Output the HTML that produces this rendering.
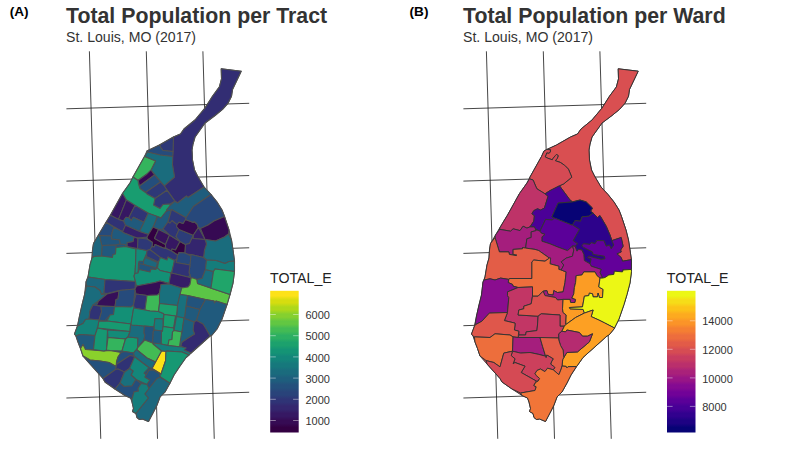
<!DOCTYPE html>
<html><head><meta charset="utf-8"><title>Total Population</title>
<style>
html,body{margin:0;padding:0;background:#fff;}
body{width:800px;height:450px;overflow:hidden;font-family:"Liberation Sans",sans-serif;}
svg{display:block}
text{font-family:"Liberation Sans",sans-serif;}
.tag{font-size:13.6px;font-weight:bold;fill:#000;}
.ttl{font-size:21.3px;font-weight:bold;fill:#333;}
.sub{font-size:14.1px;fill:#333;}
.ltt{font-size:14.2px;fill:#222;}
.lt{font-size:11px;fill:#333;}
</style></head><body>
<svg width="800" height="450" viewBox="0 0 800 450">
<rect width="800" height="450" fill="#fff"/>
<text x="9.7" y="15.9" class="tag">(A)</text>
<text x="66" y="23" class="ttl">Total Population per Tract</text>
<text x="66" y="42" class="sub">St. Louis, MO (2017)</text>
<text x="409.6" y="15.9" class="tag">(B)</text>
<text x="463" y="23" class="ttl">Total Population per Ward</text>
<text x="463" y="42" class="sub">St. Louis, MO (2017)</text>
<g stroke="#161616" stroke-width="0.8" fill="none"><line x1="89.40" y1="51.3" x2="100.75" y2="438.8"/><line x1="146.30" y1="51.3" x2="157.50" y2="438.8"/><line x1="202.90" y1="51.3" x2="214.25" y2="438.8"/><line x1="66.40" y1="108.80" x2="249.20" y2="103.30"/><line x1="66.40" y1="181.10" x2="249.20" y2="175.54"/><line x1="66.40" y1="253.40" x2="249.20" y2="247.78"/><line x1="66.40" y1="325.70" x2="249.20" y2="320.02"/><line x1="66.40" y1="398.00" x2="249.20" y2="392.26"/></g><g stroke="#161616" stroke-width="0.8" fill="none"><line x1="486.40" y1="51.3" x2="497.75" y2="438.8"/><line x1="543.30" y1="51.3" x2="554.50" y2="438.8"/><line x1="599.90" y1="51.3" x2="611.25" y2="438.8"/><line x1="463.40" y1="108.80" x2="646.20" y2="103.30"/><line x1="463.40" y1="181.10" x2="646.20" y2="175.54"/><line x1="463.40" y1="253.40" x2="646.20" y2="247.78"/><line x1="463.40" y1="325.70" x2="646.20" y2="320.02"/><line x1="463.40" y1="398.00" x2="646.20" y2="392.26"/></g><g stroke="#505050" stroke-width="1.05" stroke-linejoin="round"><polygon fill="#22547c" points="221.2,68.8 221.5,78.8 219.4,86.9 212.5,96.2 205.0,108.1 195.0,120.0 184.0,129.0 180.5,134.0 173.5,137.0 159.5,145.0 147.0,151.0 144.5,156.5 133.0,177.0 130.0,183.0 122.5,193.5 110.4,215.3 106.1,222.3 98.5,235.0 93.5,243.5 92.5,250.0 92.0,258.0 90.0,265.0 88.5,274.0 88.0,277.0 86.0,282.0 84.5,295.0 82.0,305.0 79.5,316.0 77.5,326.0 74.5,334.0 76.0,336.0 78.0,342.0 80.5,348.5 83.0,356.0 90.0,364.0 99.0,374.0 103.0,378.5 105.0,382.0 115.0,389.0 125.0,395.5 130.5,398.0 132.0,402.0 133.5,408.5 132.5,411.5 136.0,413.5 137.0,417.5 139.5,419.5 142.5,419.0 148.5,421.5 154.0,411.0 157.0,405.0 160.0,397.0 165.0,392.0 170.0,383.0 174.0,375.0 180.0,366.0 186.0,357.5 191.0,353.0 200.0,345.0 210.0,336.0 212.0,335.0 217.0,329.0 222.0,319.0 227.0,304.5 230.0,294.5 233.0,283.0 234.5,271.5 234.5,261.0 233.0,250.0 231.5,240.0 229.0,230.0 224.5,216.5 222.0,210.0 217.0,202.0 211.0,194.5 204.0,187.0 197.5,176.0 194.5,170.0 192.5,160.0 192.0,150.0 193.0,144.0 195.0,137.0 200.0,130.0 205.0,123.0 215.0,115.5 222.5,109.4 228.1,103.1 231.5,96.2 232.5,89.4 241.2,71.2"/><polygon fill="#322d73" points="221.2,68.8 221.5,78.8 219.4,86.9 212.5,96.2 205.0,108.1 195.0,120.0 184.0,129.0 180.5,134.0 173.5,137.0 172.8,155.0 172.0,156.5 172.5,165.0 174.5,177.0 164.2,185.8 175.0,201.0 177.5,203.0 186.5,196.0 188.0,197.5 204.0,187.0 197.5,176.0 194.5,170.0 192.5,160.0 192.0,150.0 193.0,144.0 195.0,137.0 200.0,130.0 205.0,123.0 215.0,115.5 222.5,109.4 228.1,103.1 231.5,96.2 232.5,89.4 241.2,71.2"/><polygon fill="#2e3877" points="159.5,145.0 173.5,137.0 173.0,151.5 163.0,150.5 161.0,148.0"/><polygon fill="#264b7c" points="147.0,151.0 159.5,145.0 161.0,148.0 163.0,150.5 173.0,151.5 172.8,156.5 160.0,155.0 147.5,152.0"/><polygon fill="#1a6c7d" points="147.5,152.0 160.0,155.0 172.8,156.5 172.5,165.0 174.5,177.0 164.2,185.8 151.0,170.0 155.5,161.0 144.5,156.5"/><polygon fill="#34b45d" points="144.5,156.5 155.5,161.0 151.0,170.0 147.0,174.0 138.0,180.5 133.0,177.0"/><polygon fill="#360a53" points="151.0,170.0 154.5,175.0 139.5,186.0 138.5,182.0 138.0,180.5 147.0,174.0"/><polygon fill="#244e7c" points="154.5,175.0 160.5,182.0 145.5,192.5 140.0,188.5 139.5,186.0"/><polygon fill="#2e3877" points="160.5,182.0 164.2,185.8 167.0,190.3 155.0,198.5 147.0,194.0 145.5,192.5"/><polygon fill="#2e3877" points="155.0,198.5 167.0,190.3 174.8,201.3 170.0,204.0 163.0,204.5 160.0,208.5 153.5,205.0"/><polygon fill="#189d70" points="138.0,180.5 138.5,184.0 140.0,188.5 145.5,192.5 147.0,194.0 155.0,198.5 153.5,205.0 160.0,208.5 163.0,204.5 170.0,204.0 170.5,205.0 167.0,209.5 166.5,211.0 161.0,218.0 148.2,213.2 135.0,205.4 128.4,201.2 126.3,200.0 122.5,193.5 130.0,183.0 133.0,177.0"/><polygon fill="#361762" points="122.5,193.5 126.3,200.0 118.5,219.4 110.4,215.3"/><polygon fill="#361762" points="126.3,200.0 128.4,201.2 135.0,205.4 128.8,217.7 125.9,217.3 123.4,221.0 118.5,219.4"/><polygon fill="#2f3476" points="135.0,205.4 148.2,213.2 144.0,222.3 133.3,217.3 131.3,220.6 128.8,217.7"/><polygon fill="#205a7d" points="125.9,217.3 128.8,217.7 131.3,220.6 133.3,217.3 144.0,222.3 139.5,231.4 125.5,225.2 123.4,221.0"/><polygon fill="#1a6c7d" points="148.2,213.2 157.5,216.5 153.5,226.5 148.5,234.5 139.5,231.4 144.0,222.3"/><polygon fill="#205a7d" points="157.5,216.5 161.0,218.0 166.5,211.0 171.5,209.5 168.0,222.0 163.0,229.0 158.5,229.5 153.0,227.0 153.5,226.5"/><polygon fill="#303275" points="110.4,215.3 118.5,219.4 123.4,221.0 125.5,225.2 122.6,231.8 106.1,222.3"/><polygon fill="#351f6a" points="125.5,225.2 139.5,231.4 148.5,234.5 147.0,237.0 138.5,238.0 134.0,237.0 123.0,232.5 122.6,231.8"/><polygon fill="#361762" points="134.0,237.0 138.0,238.5 137.5,248.5 127.0,246.5 127.0,242.5 133.0,241.5"/><polygon fill="#330042" points="153.0,227.0 158.5,229.5 154.5,238.0 165.5,244.5 165.5,246.5 164.5,248.5 155.0,244.5 154.0,247.0 152.0,246.5 152.5,242.5 147.5,239.0 147.0,237.0 148.5,234.5"/><polygon fill="#37125c" points="158.5,229.5 169.5,235.0 165.5,244.5 154.5,238.5"/><polygon fill="#361762" points="169.5,235.0 180.0,241.5 175.5,250.0 172.0,249.0 171.5,251.0 166.0,248.5 165.5,246.5 165.5,244.5"/><polygon fill="#330042" points="180.0,241.5 185.5,244.5 185.0,253.0 179.0,252.5 177.5,255.0 171.5,251.0 172.0,249.0 175.5,250.0"/><polygon fill="#2f3476" points="163.0,229.0 168.0,222.0 170.0,223.0 172.0,220.5 177.0,224.5 176.5,226.5 179.0,229.5 176.0,236.5 180.0,241.5 169.5,235.0"/><polygon fill="#2c3d79" points="179.0,229.5 193.3,235.3 189.5,243.5 185.5,244.5 180.0,241.5 176.0,236.5"/><polygon fill="#360950" points="177.0,224.5 179.0,222.0 183.0,223.5 185.5,219.5 193.5,222.5 194.0,221.5 197.0,224.0 198.3,227.5 193.3,235.3 179.0,229.5 176.5,226.5"/><polygon fill="#1f5d7d" points="170.5,205.0 174.8,201.3 177.5,203.0 186.5,196.0 188.0,197.5 204.0,187.0 211.0,194.5 193.5,206.5 186.0,217.8 171.5,209.5 166.5,211.0 167.0,209.5"/><polygon fill="#2e3877" points="171.5,209.5 186.0,217.8 185.5,219.5 183.0,223.5 179.0,222.0 177.0,224.5 172.0,220.5 170.0,223.0 168.0,222.0"/><polygon fill="#27487b" points="211.0,194.5 217.0,202.0 222.0,210.0 224.5,216.5 214.0,221.0 208.0,225.0 200.5,228.5 198.3,227.5 197.0,224.0 194.0,221.5 193.5,222.5 185.5,219.5 186.0,217.8 193.5,206.5"/><polygon fill="#360a53" points="224.5,216.5 229.0,230.0 228.5,234.0 224.5,237.0 215.5,241.0 205.0,239.5 200.5,228.5 208.0,225.0 214.0,221.0"/><polygon fill="#361c67" points="198.5,227.5 205.0,239.5 193.0,238.5 193.3,235.3"/><polygon fill="#264b7c" points="106.1,222.3 113.9,227.2 112.0,233.0 111.5,236.0 99.5,235.5 98.5,235.0"/><polygon fill="#205a7d" points="113.9,227.2 122.6,231.8 123.0,232.5 134.0,237.0 133.0,241.5 127.0,242.5 127.0,246.5 125.5,246.5 125.5,244.5 120.0,244.0 119.5,240.0 111.5,239.0 112.0,233.0"/><polygon fill="#22557c" points="99.5,235.5 111.5,236.0 111.5,239.0 119.5,240.0 120.0,244.0 116.0,245.0 102.0,245.5 101.5,244.5"/><polygon fill="#21587d" points="102.0,245.5 116.0,245.0 116.0,247.5 115.5,254.0 113.0,254.5 112.5,257.5 101.5,256.0"/><polygon fill="#1c657d" points="98.5,235.0 99.5,235.5 101.5,244.5 102.0,245.5 101.5,256.0 94.0,256.5 92.0,258.0 92.5,250.0 93.5,243.5"/><polygon fill="#169873" points="94.0,256.5 101.5,256.0 112.5,257.5 113.0,254.5 115.5,254.0 116.0,247.5 125.5,246.5 136.0,249.0 135.5,265.0 135.0,273.5 134.0,276.0 135.5,281.5 105.0,279.5 88.0,277.0 88.5,274.0 90.0,265.0 92.0,258.0"/><polygon fill="#138b78" points="136.0,249.0 137.5,248.5 147.0,250.5 147.5,251.0 143.5,261.0 139.0,261.3 138.5,263.5 138.0,273.0 135.0,273.5 135.5,265.0"/><polygon fill="#2e3877" points="138.0,238.5 138.5,238.0 147.0,239.0 152.5,242.5 152.0,246.5 150.0,249.5 147.0,250.5 137.5,248.5"/><polygon fill="#2e3877" points="150.0,249.5 160.5,257.5 158.5,262.0 146.5,256.5 147.0,250.5"/><polygon fill="#2f3476" points="155.0,244.5 164.5,248.5 166.0,248.5 171.5,251.0 177.5,255.0 177.0,259.0 174.5,260.5 168.0,257.0 167.0,260.0 160.5,257.5 150.0,249.5 152.0,246.5 154.0,247.0"/><polygon fill="#139076" points="160.5,257.5 167.0,260.0 168.0,257.0 174.5,260.5 172.5,269.5 171.5,273.0 160.0,270.5 157.5,268.0 158.5,262.0"/><polygon fill="#1c677d" points="145.5,257.5 157.5,262.5 156.0,268.0 150.5,266.5 143.5,264.5 143.5,261.0"/><polygon fill="#22557c" points="139.0,263.5 143.5,264.5 150.5,266.5 156.0,268.0 155.5,269.5 151.0,269.0 150.0,272.0 139.0,269.5"/><polygon fill="#1c677d" points="88.0,277.0 105.0,279.5 104.0,293.0 101.5,294.5 100.0,290.5 95.0,287.0 86.5,286.0 86.0,282.0"/><polygon fill="#1a6c7d" points="86.5,286.0 95.0,287.0 100.0,290.5 101.5,294.5 107.0,294.0 98.5,301.0 93.0,305.0 90.0,311.0 89.0,319.0 85.5,319.5 83.0,323.5 77.5,326.0 79.5,316.0 82.0,305.0 84.5,295.0"/><polygon fill="#2f3476" points="105.0,279.5 135.5,281.5 135.0,289.0 119.0,290.5 107.0,293.5 104.0,293.0"/><polygon fill="#360f59" points="107.0,294.0 119.0,291.0 118.0,299.0 116.0,299.5 115.0,306.5 96.5,305.5 98.5,301.0"/><polygon fill="#264b7c" points="119.0,290.5 135.0,289.0 133.5,305.0 131.0,307.0 115.0,306.5 116.0,299.5 118.0,299.0"/><polygon fill="#139076" points="135.0,273.5 138.0,273.0 139.0,269.5 150.0,272.0 151.0,269.0 155.5,269.5 157.5,268.0 160.0,270.5 171.0,273.0 169.0,283.5 160.0,281.0 155.0,282.5 136.5,286.0 135.5,281.5 134.0,276.0"/><polygon fill="#360d56" points="136.5,286.0 155.0,282.5 160.0,281.0 169.0,283.5 169.0,284.0 161.0,284.5 159.5,293.0 157.5,295.0 147.0,295.5 136.0,294.0 135.0,289.0"/><polygon fill="#303275" points="136.0,294.0 147.0,295.5 145.0,310.0 134.0,308.0 133.5,305.0"/><polygon fill="#3db957" points="147.0,295.5 157.5,295.0 159.5,293.0 159.5,303.5 158.5,311.5 150.0,311.0 145.0,310.0"/><polygon fill="#303275" points="93.0,305.0 96.5,305.5 101.0,306.5 101.5,312.0 99.0,320.0 89.0,319.0 90.0,311.0"/><polygon fill="#244e7c" points="101.0,306.5 115.0,306.5 114.5,307.5 113.5,314.5 110.0,315.0 104.5,321.0 99.0,320.0 101.5,312.0"/><polygon fill="#139076" points="114.5,307.5 115.0,306.5 131.0,307.0 133.5,305.0 134.0,308.0 133.5,309.0 131.0,324.0 107.0,321.0 110.0,315.0 113.5,314.5"/><polygon fill="#179a71" points="99.0,321.0 104.5,321.3 107.0,321.0 131.0,324.0 130.5,325.5 130.0,331.5 97.5,328.0"/><polygon fill="#14837a" points="85.5,319.5 89.0,319.0 99.0,320.0 97.5,328.0 95.0,335.5 80.0,334.5 76.0,336.0 74.5,334.0 77.5,326.0 83.0,323.5"/><polygon fill="#205a7d" points="80.0,334.5 95.0,335.5 93.5,349.5 85.5,349.5 83.0,344.5 80.5,348.5 78.0,342.0 76.0,336.0"/><polygon fill="#8ad12c" points="83.0,344.5 85.5,349.5 104.0,351.0 110.0,350.5 121.0,352.5 118.0,357.0 116.5,362.0 116.0,366.5 109.0,362.5 100.0,361.0 90.0,360.0 83.0,356.0 80.5,348.5"/><polygon fill="#169873" points="97.5,328.0 107.5,330.0 106.5,350.0 104.0,351.0 93.5,349.5 95.0,335.5"/><polygon fill="#138b78" points="107.5,330.0 130.0,331.5 128.0,337.0 125.5,339.0 108.0,337.5"/><polygon fill="#34b45d" points="108.0,337.5 125.5,339.0 122.0,351.0 110.0,350.5 106.5,350.0"/><polygon fill="#179a71" points="128.0,337.0 138.0,338.0 137.5,348.0 136.0,350.0 133.5,353.0 124.5,351.5 122.0,351.0 125.5,339.0"/><polygon fill="#1a6c7d" points="131.0,324.0 132.0,325.0 144.5,326.0 144.0,333.0 145.0,335.0 144.0,339.5 137.5,348.0 138.0,338.0 128.0,337.0 130.0,331.5 130.5,325.5"/><polygon fill="#139076" points="133.5,309.0 134.0,308.0 145.0,310.0 150.0,311.0 158.5,311.5 163.5,313.5 164.0,314.5 163.0,319.0 155.0,318.5 154.0,327.0 150.0,326.5 144.5,326.0 132.0,325.0 131.0,324.0"/><polygon fill="#244e7c" points="121.0,352.5 124.5,351.5 133.5,353.0 134.5,356.5 130.0,355.5 117.0,364.0 116.5,362.0 118.0,357.0"/><polygon fill="#303275" points="130.0,355.5 134.5,356.5 134.0,359.0 129.5,368.5 124.5,372.0 118.0,369.0 115.5,369.5 116.0,366.5 117.0,364.0"/><polygon fill="#24507c" points="83.0,356.0 90.0,360.0 100.0,361.0 109.0,362.5 116.0,366.5 115.5,369.5 103.0,378.5 99.0,374.0 90.0,364.0"/><polygon fill="#2f3476" points="115.5,369.5 118.0,369.0 124.5,372.0 120.0,383.0 115.0,389.0 105.0,382.0 103.0,378.5"/><polygon fill="#13867a" points="134.3,357.5 134.5,356.5 149.0,367.5 144.0,373.0 146.0,374.5 149.0,370.0 145.0,377.0 150.0,380.0 147.0,384.5 136.0,379.5 131.0,375.0 133.0,371.0 129.5,368.5"/><polygon fill="#19707d" points="129.5,368.5 133.0,371.0 131.0,375.0 136.0,379.5 132.0,386.0 124.0,386.5 120.0,383.0 124.5,372.0"/><polygon fill="#244e7c" points="120.0,383.0 124.0,386.5 132.0,386.0 136.0,379.5 141.0,383.5 138.0,388.5 138.5,391.0 134.0,392.0 132.0,399.0 130.5,398.0 125.0,395.5 115.0,389.0"/><polygon fill="#22537c" points="149.0,370.0 154.0,370.0 159.5,373.5 160.5,377.0 157.0,378.5 149.0,388.5 147.0,384.5 150.0,380.0 145.0,377.0"/><polygon fill="#157d7b" points="141.0,383.5 147.0,384.5 149.0,388.5 145.0,394.0 148.5,398.0 136.0,413.5 132.5,411.5 133.5,408.5 132.0,402.0 132.0,399.0 134.0,392.0 138.5,391.0 138.0,388.5"/><polygon fill="#1c677d" points="157.0,378.5 160.5,377.0 169.0,382.5 170.0,383.0 165.0,392.0 160.0,397.0 157.0,405.0 154.0,411.0 148.5,421.5 142.5,419.0 139.5,419.5 137.0,417.5 136.0,413.5 148.5,398.0 145.0,394.0 149.0,388.5"/><polygon fill="#1a6c7d" points="228.5,234.0 231.5,240.0 233.0,250.0 234.5,261.0 229.0,261.5 225.0,263.5 216.0,260.5 206.5,260.0 203.5,257.5 204.5,250.0 206.5,244.0 205.0,239.5 215.5,241.0 224.5,237.0"/><polygon fill="#34256e" points="193.0,238.5 205.0,239.5 206.5,244.0 204.5,250.0 203.5,257.5 191.0,254.5 187.0,254.0 185.0,253.0 185.5,244.5 189.5,243.5 193.3,235.3"/><polygon fill="#27487b" points="178.5,254.5 179.0,252.5 185.0,253.0 187.0,254.0 191.0,256.0 190.0,265.0 176.0,262.5 177.0,259.0 177.5,255.0"/><polygon fill="#27487b" points="191.0,254.5 203.5,257.5 206.5,260.0 205.5,269.5 202.0,278.5 197.0,279.5 193.0,278.0 191.0,278.0 190.0,275.0 189.0,272.5 190.0,265.0 191.0,256.0"/><polygon fill="#303275" points="176.0,262.5 190.0,265.0 189.0,272.5 190.0,275.0 188.0,277.0 171.5,273.0 172.5,269.5 174.5,260.5 177.0,259.0"/><polygon fill="#361c67" points="171.5,273.0 188.0,277.0 191.0,278.0 191.0,279.0 190.0,284.5 188.0,287.0 182.0,288.0 181.5,288.0 169.0,284.0 169.0,283.5 171.0,273.0"/><polygon fill="#5bc546" points="193.0,278.0 197.0,279.5 197.5,283.5 212.0,288.5 230.0,294.5 227.0,304.5 216.0,301.0 214.5,303.0 214.0,301.0 205.5,299.5 187.5,295.5 180.0,294.5 181.5,288.0 188.0,287.0 190.0,284.5 191.0,279.0 191.0,278.0"/><polygon fill="#1a6c7d" points="205.5,269.5 213.5,271.5 211.0,288.0 197.5,283.5 197.0,279.5 202.0,278.5"/><polygon fill="#157d7b" points="206.5,260.0 216.0,260.5 225.0,263.5 229.0,261.5 234.5,261.0 234.5,271.5 215.0,269.0 213.5,271.5 205.5,269.5"/><polygon fill="#20a56a" points="215.0,269.0 234.5,271.5 233.0,283.0 230.0,294.5 212.0,288.5 211.0,288.0 213.5,271.5"/><polygon fill="#19707d" points="161.0,284.5 169.0,284.0 181.5,288.0 180.0,294.5 177.5,305.5 159.5,303.5 159.5,293.0"/><polygon fill="#22537c" points="187.5,295.5 205.5,299.5 200.0,309.5 186.0,306.0"/><polygon fill="#205a7d" points="186.0,306.0 200.0,309.5 196.5,320.5 194.0,322.0 184.5,318.5 184.0,318.0 184.5,317.5"/><polygon fill="#205a7d" points="205.5,299.5 214.0,301.0 214.5,303.0 216.0,301.0 227.0,304.5 222.0,319.0 217.0,329.0 212.0,335.0 210.0,336.0 209.5,335.0 205.5,328.0 203.0,324.0 196.5,320.5 200.0,309.5"/><polygon fill="#332a71" points="194.0,322.0 196.5,320.5 203.0,324.0 205.5,328.0 209.5,335.0 210.0,336.0 200.0,345.0 191.0,353.0 184.0,350.0 186.0,348.0 180.5,346.5 182.0,342.0 188.0,338.0 194.5,334.0 193.0,330.0"/><polygon fill="#19707d" points="180.0,294.5 187.5,295.5 186.0,306.0 184.5,317.5 184.0,318.0 176.5,316.5 177.5,305.5"/><polygon fill="#1ba06e" points="159.5,303.5 177.5,305.5 176.5,316.5 175.5,316.0 164.0,314.5 163.5,313.5 158.5,311.5"/><polygon fill="#199e6f" points="164.0,314.5 175.5,316.0 173.5,328.0 163.0,326.5"/><polygon fill="#13867a" points="176.5,316.5 184.0,318.0 182.0,332.0 174.0,330.5"/><polygon fill="#1e607d" points="184.0,318.0 184.5,318.5 194.0,322.0 193.0,330.0 194.5,334.0 188.0,338.0 182.0,342.0 180.5,346.5 179.0,346.5 180.0,333.0 182.0,332.0"/><polygon fill="#157d7b" points="155.0,318.5 163.0,319.0 163.0,326.5 162.5,331.0 154.0,330.0 154.0,327.0"/><polygon fill="#179a71" points="163.0,326.5 173.5,328.0 174.0,330.5 172.5,332.0 172.0,339.5 169.0,340.0 168.0,345.5 161.0,344.0 161.5,331.5 162.5,331.0"/><polygon fill="#3ab759" points="172.5,332.0 174.0,330.5 182.0,332.0 181.5,333.0 179.5,346.7 168.0,345.5 169.0,340.0 172.0,339.5"/><polygon fill="#205a7d" points="153.0,332.0 154.0,330.0 162.5,331.0 161.5,331.5 161.0,344.0 152.5,343.0"/><polygon fill="#22537c" points="144.5,326.0 150.0,326.5 154.0,327.0 154.0,330.0 153.0,332.0 152.5,343.0 146.0,340.5 144.0,339.5 145.0,335.0 144.0,333.0"/><polygon fill="#157d7b" points="152.5,343.0 161.0,344.0 168.0,345.5 178.5,346.8 180.5,346.5 186.0,348.0 184.0,350.0 191.0,353.0 189.0,355.0 182.0,352.0 166.5,351.0 166.0,351.5 161.5,351.0 153.0,344.0"/><polygon fill="#fde218" points="161.5,351.0 166.0,351.5 165.5,361.0 161.0,374.0 152.0,368.5 155.5,362.0"/><polygon fill="#169873" points="166.0,351.5 166.5,351.0 182.0,352.0 189.0,355.0 186.0,357.5 180.0,366.0 174.0,375.0 170.0,383.0 169.0,382.5 160.5,377.0 159.5,373.5 161.0,374.0 165.5,361.0"/><polygon fill="#22537c" points="152.0,368.5 161.0,374.0 159.5,373.5 154.0,370.0 149.0,370.0"/><polygon fill="#43bb54" points="137.5,348.0 145.0,340.0 146.0,340.5 152.5,343.0 153.0,344.0 161.5,351.0 155.5,362.0 147.0,358.0 137.0,350.0"/><polygon fill="#1a6c7d" points="136.0,350.0 137.0,350.0 147.0,358.0 155.5,362.0 152.0,368.5 149.0,367.5 134.5,356.5 133.5,353.0"/></g><g stroke="#333333" stroke-width="0.95" stroke-linejoin="round"><polygon fill="#d64c53" points="618.2,68.8 618.5,78.8 616.4,86.9 609.5,96.2 602.0,108.1 592.0,120.0 581.0,129.0 577.5,134.0 570.5,137.0 556.5,145.0 544.0,151.0 541.5,156.5 530.0,177.0 527.0,183.0 519.5,193.5 507.4,215.3 503.1,222.3 495.5,235.0 490.5,243.5 489.5,250.0 489.0,258.0 487.0,265.0 485.5,274.0 485.0,277.0 483.0,282.0 481.5,295.0 479.0,305.0 476.5,316.0 474.5,326.0 471.5,334.0 473.0,336.0 475.0,342.0 477.5,348.5 480.0,356.0 487.0,364.0 496.0,374.0 500.0,378.5 502.0,382.0 512.0,389.0 522.0,395.5 527.5,398.0 529.0,402.0 530.5,408.5 529.5,411.5 533.0,413.5 534.0,417.5 536.5,419.5 539.5,419.0 545.5,421.5 551.0,411.0 554.0,405.0 557.0,397.0 562.0,392.0 567.0,383.0 571.0,375.0 577.0,366.0 583.0,357.5 588.0,353.0 597.0,345.0 607.0,336.0 609.0,335.0 614.0,329.0 619.0,319.0 624.0,304.5 627.0,294.5 630.0,283.0 631.5,271.5 631.5,261.0 630.0,250.0 628.5,240.0 626.0,230.0 621.5,216.5 619.0,210.0 614.0,202.0 608.0,194.5 601.0,187.0 594.5,176.0 591.5,170.0 589.5,160.0 589.0,150.0 590.0,144.0 592.0,137.0 597.0,130.0 602.0,123.0 612.0,115.5 619.5,109.4 625.1,103.1 628.5,96.2 629.5,89.4 638.2,71.2"/><polygon fill="#d94f51" points="618.2,68.8 618.5,78.8 616.4,86.9 609.5,96.2 602.0,108.1 592.0,120.0 581.0,129.0 577.5,134.0 570.5,137.0 556.5,145.0 546.9,149.4 550.6,149.8 550.2,152.2 548.9,153.1 546.8,152.8 546.0,154.8 545.2,156.9 547.7,158.2 552.3,159.8 553.2,158.2 555.3,155.6 556.5,154.5 558.2,155.6 557.4,158.2 555.3,160.7 560.3,162.4 564.6,165.3 568.4,169.1 570.0,172.9 571.8,177.2 563.8,183.8 559.5,185.8 570.0,200.0 572.5,201.9 580.0,200.0 586.2,201.9 592.5,208.1 590.6,211.2 593.1,213.1 597.5,217.5 600.0,215.6 606.2,226.2 610.0,235.0 611.9,240.6 621.2,237.5 623.1,246.2 620.6,250.0 621.2,251.9 616.9,253.8 621.2,257.5 622.5,261.2 629.4,260.0 631.4,259.5 630.0,250.0 628.5,240.0 626.0,230.0 621.5,216.5 619.0,210.0 614.0,202.0 608.0,194.5 601.0,187.0 594.5,176.0 591.5,170.0 589.5,160.0 589.0,150.0 590.0,144.0 592.0,137.0 597.0,130.0 602.0,123.0 612.0,115.5 619.5,109.4 625.1,103.1 628.5,96.2 629.5,89.4 638.2,71.2"/><polygon fill="#d54a54" points="546.9,149.4 550.6,149.8 550.2,152.2 548.9,153.1 546.8,152.8 546.0,154.8 545.2,156.9 547.7,158.2 552.3,159.8 553.2,158.2 555.3,155.6 556.5,154.5 558.2,155.6 557.4,158.2 555.3,160.7 560.3,162.4 564.6,165.3 568.4,169.1 570.0,172.9 571.8,177.2 563.8,183.8 559.5,185.8 550.0,190.6 545.0,193.8 536.9,188.8 535.6,186.0 533.1,180.0 529.4,178.8 530.0,177.0 541.5,156.5 544.0,151.0"/><polygon fill="#be3368" points="529.4,178.8 533.1,180.0 535.6,186.0 536.9,188.8 545.0,193.8 548.1,196.2 544.4,208.1 540.6,210.0 537.5,208.8 533.8,210.6 531.9,213.8 534.4,215.6 533.8,221.2 530.0,226.9 526.9,228.1 523.1,226.2 520.0,230.6 513.1,228.8 510.6,231.2 500.0,229.4 499.0,229.3 503.1,222.3 507.4,215.3 519.5,193.5 527.0,183.0"/><polygon fill="#4b0097" points="548.1,196.2 545.0,193.8 550.0,190.6 559.5,185.8 570.0,200.0 572.5,201.9 558.1,203.1 551.9,216.9 554.4,218.1 552.5,220.0 545.6,219.4 540.0,231.2 535.6,229.4 534.4,226.9 530.0,226.9 533.8,221.2 534.4,215.6 531.9,213.8 533.8,210.6 537.5,208.8 540.6,210.0 544.4,208.1"/><polygon fill="#070375" points="558.1,203.1 572.5,201.9 580.0,200.0 586.2,201.9 592.5,208.1 590.6,211.2 593.1,213.1 588.8,216.2 581.9,216.9 580.6,221.2 575.0,220.6 572.5,225.0 571.9,225.0 554.4,218.1 551.9,216.9"/><polygon fill="#2d028b" points="593.1,213.1 597.5,217.5 600.0,215.6 606.2,226.2 610.0,235.0 611.9,240.6 613.8,245.0 611.2,248.8 609.4,245.0 606.2,246.2 603.8,240.6 596.9,240.6 595.0,243.8 591.2,242.5 590.0,244.4 583.8,243.8 581.9,245.6 583.8,247.5 592.5,251.9 593.1,254.4 604.4,256.2 605.0,258.8 601.2,259.4 588.8,256.2 587.5,257.5 591.2,258.8 590.0,263.8 584.4,260.6 583.8,254.4 581.9,250.0 578.8,249.4 576.9,251.2 575.0,246.2 577.5,243.8 573.1,240.6 579.4,229.4 572.5,225.0 575.0,220.6 580.6,221.2 581.9,216.9 588.8,216.2"/><polygon fill="#5b0099" points="545.6,219.4 552.5,220.0 554.4,218.1 571.9,225.0 572.5,225.0 579.4,229.4 573.1,240.6 577.5,243.8 575.0,246.2 572.5,246.0 567.5,250.6 557.5,246.9 550.0,243.8 541.9,241.2 541.9,236.9 545.0,234.4 541.2,233.1 540.0,231.2"/><polygon fill="#63009a" points="611.9,240.6 621.2,237.5 623.1,246.2 620.6,250.0 621.2,251.9 616.9,253.8 621.2,257.5 622.5,261.2 629.4,260.0 631.4,259.5 631.5,261.0 631.4,269.4 622.5,270.0 623.1,270.0 622.5,271.9 614.4,271.2 613.8,274.4 608.8,275.0 605.0,277.5 602.5,278.1 600.0,272.5 601.2,269.4 591.2,266.2 590.0,263.8 591.2,258.8 587.5,257.5 588.8,256.2 601.2,259.4 605.0,258.8 604.4,256.2 593.1,254.4 592.5,251.9 583.8,247.5 581.9,245.6 583.8,243.8 590.0,244.4 591.2,242.5 595.0,243.8 596.9,240.6 603.8,240.6 606.2,246.2 609.4,245.0 611.2,248.8 613.8,245.0"/><polygon fill="#a51e7d" points="500.0,228.8 500.0,229.4 510.6,231.2 513.1,228.8 520.0,230.6 523.1,226.2 526.9,228.1 530.0,226.9 534.4,226.9 535.6,229.4 536.2,230.6 531.2,231.9 531.2,237.5 526.9,238.8 525.6,248.1 522.5,247.5 522.5,248.8 513.1,249.4 513.1,254.4 516.9,255.0 516.2,255.6 509.4,254.4 508.8,251.9 499.4,251.9 495.0,237.5 495.5,235.0"/><polygon fill="#a31c7f" points="531.2,231.9 536.2,230.6 535.6,229.4 540.0,231.2 541.2,233.1 545.0,234.4 541.9,236.9 541.9,241.2 550.0,243.8 557.5,246.9 567.5,250.6 572.5,246.2 573.8,250.0 572.5,256.2 566.2,258.1 561.2,261.9 563.8,265.0 561.2,270.0 558.8,269.4 558.8,266.2 550.0,263.8 550.6,258.1 549.4,258.1 538.8,250.6 535.0,249.4 525.6,248.1 526.9,238.8 531.2,237.5"/><polygon fill="#e35d47" points="495.0,237.5 499.4,251.9 508.8,251.9 509.4,254.4 516.2,255.6 516.9,255.0 513.1,254.4 513.1,249.4 522.5,248.8 522.5,247.5 525.6,248.1 535.0,249.4 538.8,250.6 549.4,258.1 545.0,261.2 533.8,260.0 531.9,261.9 531.9,278.5 509.4,278.5 508.8,279.4 500.6,278.1 495.0,280.0 490.0,278.8 484.4,280.0 483.8,280.5 485.0,277.0 485.5,274.0 487.0,265.0 489.0,258.0 489.5,250.0 490.5,243.5"/><polygon fill="#ed6e3c" points="533.8,260.0 545.0,261.2 549.4,258.1 550.6,258.1 550.0,263.8 558.8,266.2 558.8,269.4 561.2,270.0 566.2,271.9 565.0,282.5 563.1,291.9 557.5,292.5 553.8,290.6 553.1,295.0 548.1,294.4 546.9,290.6 543.1,291.2 538.1,296.2 532.5,296.2 532.5,286.9 518.1,287.5 513.1,286.2 512.5,284.4 508.1,282.5 508.8,279.4 509.4,278.5 531.9,278.5 531.9,261.9"/><polygon fill="#9e1983" points="572.5,246.0 575.0,246.2 576.9,251.2 578.8,249.4 581.9,250.0 583.8,254.4 584.4,260.6 590.0,263.8 591.2,266.2 601.2,269.4 600.0,272.5 602.5,278.1 600.0,278.1 596.9,275.6 595.0,271.9 583.8,271.9 581.9,275.0 576.2,275.6 575.6,282.5 574.4,287.5 573.8,293.8 571.9,298.1 575.6,299.4 575.0,302.5 570.6,302.5 570.0,299.4 563.1,299.4 557.5,300.0 555.6,297.5 545.0,295.6 543.1,291.2 546.9,290.6 548.1,294.4 553.1,295.0 553.8,290.6 557.5,292.5 563.1,291.9 565.0,282.5 566.2,271.9 561.2,270.0 563.8,265.0 561.2,261.9 566.2,258.1 572.5,256.2 573.8,250.0"/><polygon fill="#8a0d8f" points="483.8,280.5 484.4,280.0 490.0,278.8 495.0,280.0 500.6,278.1 508.8,279.4 508.1,282.5 512.5,284.4 513.1,286.2 518.1,287.5 507.5,291.9 507.5,295.6 508.8,297.5 507.5,312.5 489.4,313.1 481.9,321.2 475.0,325.0 476.5,316.0 479.0,305.0 481.5,295.0 483.0,282.0"/><polygon fill="#c23665" points="507.5,291.9 518.1,287.5 532.5,286.9 532.5,296.2 531.2,303.8 523.8,306.2 523.8,308.8 518.8,310.0 518.1,315.0 538.1,316.2 537.5,325.0 536.9,330.6 526.2,331.9 525.6,335.0 518.8,335.0 518.8,331.2 514.4,330.0 515.0,325.0 515.0,323.1 504.4,320.6 507.5,312.5 508.8,297.5 507.5,295.6"/><polygon fill="#db514f" points="532.5,296.2 538.1,296.2 543.1,291.2 545.0,295.6 555.6,297.5 557.5,300.0 563.1,299.4 562.5,308.8 563.1,312.5 566.2,315.0 565.6,324.4 564.4,326.2 560.0,326.2 560.0,315.0 541.2,313.8 538.1,316.2 518.1,315.0 518.8,310.0 523.8,308.8 523.8,306.2 531.2,303.8"/><polygon fill="#c73b61" points="538.1,316.2 541.2,313.8 560.0,315.0 560.0,326.2 564.4,326.2 561.9,331.2 558.8,333.8 558.6,338.0 518.1,337.5 518.8,335.0 525.6,335.0 526.2,331.9 536.9,330.6 537.5,325.0"/><polygon fill="#fc9c24" points="576.2,275.6 581.9,275.0 583.8,271.9 595.0,271.9 596.9,275.6 600.0,278.1 598.8,286.9 603.1,289.4 602.5,297.5 599.4,297.5 598.1,293.1 597.5,296.9 593.1,296.9 592.5,293.8 589.4,293.1 588.8,295.6 584.4,296.2 582.5,306.9 569.4,307.5 570.0,308.8 583.1,309.4 584.4,313.1 575.6,317.5 565.8,324.6 566.2,315.0 563.1,312.5 562.5,308.8 563.1,299.4 570.0,299.4 570.6,302.5 575.0,302.5 575.6,299.4 571.9,298.1 573.8,293.8 574.4,287.5 575.6,282.5"/><polygon fill="#ecf715" points="600.0,278.1 602.5,278.1 605.0,277.5 608.8,275.0 613.8,274.4 614.4,271.2 622.5,271.9 623.1,270.0 631.4,269.4 631.5,271.5 630.0,283.0 627.0,294.5 624.0,304.5 619.0,319.0 614.5,328.0 604.4,322.8 598.8,320.0 591.2,316.6 593.1,310.0 584.4,313.1 583.1,309.4 570.0,308.8 569.4,307.5 582.5,306.9 584.4,296.2 588.8,295.6 589.4,293.1 592.5,293.8 593.1,296.9 597.5,296.9 598.1,293.1 599.4,297.5 602.5,297.5 603.1,289.4 598.8,286.9"/><polygon fill="#fda023" points="565.8,324.6 575.6,317.5 584.4,313.1 593.1,310.0 591.2,316.6 598.8,320.0 604.4,322.8 614.5,328.0 614.0,329.0 609.0,335.0 607.0,336.0 597.0,345.0 588.0,353.0 583.0,357.5 577.0,366.0 576.5,366.5 568.0,366.7 566.9,367.9 566.1,366.4 562.0,366.0 562.7,359.6 563.8,357.5 566.9,352.5 577.5,351.9 589.4,341.9 592.5,333.8 587.5,336.2 582.5,336.2 579.4,332.5 566.9,330.0 565.6,331.9 561.9,331.2 564.4,326.2"/><polygon fill="#b52b70" points="558.8,333.8 561.9,331.2 565.6,331.9 566.9,330.0 579.4,332.5 582.5,336.2 587.5,336.2 592.5,333.8 589.4,341.9 577.5,351.9 566.9,352.5 563.8,357.5 563.1,350.0 560.6,345.6 558.8,340.0"/><polygon fill="#df574b" points="475.0,325.0 481.9,321.2 489.4,313.1 507.5,312.5 504.4,320.6 515.0,323.1 515.0,325.0 514.4,330.0 518.8,331.2 518.1,337.5 513.1,336.9 510.0,335.0 495.0,333.8 490.0,337.5 474.4,336.9 473.0,336.0 471.5,334.0 474.5,326.0"/><polygon fill="#ed6e3c" points="474.4,336.9 490.0,337.5 495.0,333.8 510.0,335.0 513.1,336.9 512.5,351.2 503.8,353.1 500.0,366.9 493.8,362.5 486.2,360.6 480.0,356.0 477.5,348.5 475.0,342.0"/><polygon fill="#a51e7d" points="513.1,336.9 518.1,337.5 540.0,337.5 542.5,346.2 545.6,356.2 538.8,354.4 530.0,352.5 520.6,353.1 512.5,351.2"/><polygon fill="#e35d47" points="540.0,337.5 558.6,338.0 558.8,340.0 560.6,345.6 563.1,350.0 563.8,357.5 562.7,359.6 562.0,366.0 561.2,369.0 558.9,374.7 553.2,369.8 554.8,367.5 553.2,366.0 550.6,364.1 551.8,361.1 553.2,358.8 546.8,355.0 546.1,357.7 545.6,356.2 542.5,346.2"/><polygon fill="#cc405c" points="512.5,351.2 520.6,353.1 530.0,352.5 538.8,354.4 545.6,356.2 546.1,357.7 546.8,355.0 553.2,358.8 551.8,361.1 550.6,364.1 553.2,366.0 554.8,367.5 553.2,369.8 547.6,368.2 544.9,371.6 540.4,369.0 537.0,370.5 535.1,373.5 536.2,375.4 539.6,378.5 538.1,381.1 536.2,381.0 521.2,372.5 525.0,366.2 515.0,362.5 513.1,363.8 515.0,358.8 511.2,355.6"/><polygon fill="#d54a54" points="503.8,353.1 512.5,351.2 511.2,355.6 515.0,358.8 513.1,363.8 515.0,362.5 525.0,366.2 521.2,372.5 536.2,381.0 533.8,385.5 536.2,386.8 535.0,390.5 520.6,393.0 512.0,389.0 502.0,382.0 500.0,378.5 496.0,374.0 487.0,364.0 486.2,360.6 493.8,362.5 500.0,366.9"/><polygon fill="#f17538" points="535.1,373.5 537.0,370.5 540.4,369.0 544.9,371.6 547.6,368.2 553.2,369.8 558.9,374.7 561.2,369.0 562.0,366.0 566.1,366.4 566.9,367.9 568.0,366.7 576.5,366.5 571.0,375.0 567.0,383.0 562.0,392.0 557.0,397.0 554.0,405.0 551.0,411.0 545.5,421.5 539.5,419.0 536.5,419.5 534.0,417.5 533.0,413.5 529.5,411.5 530.5,408.5 529.0,402.0 527.5,398.0 522.0,395.5 520.6,393.0 535.0,390.5 536.2,386.8 533.8,385.5 535.9,382.2 538.1,381.1 539.6,378.5 536.2,375.4"/></g><defs><linearGradient id="gv" x1="0" y1="1" x2="0" y2="0"><stop offset="0.0150" stop-color="#330042"/><stop offset="0.0350" stop-color="#330042"/><stop offset="0.0650" stop-color="#360b54"/><stop offset="0.0850" stop-color="#360b54"/><stop offset="0.1150" stop-color="#361863"/><stop offset="0.1350" stop-color="#361863"/><stop offset="0.1650" stop-color="#34276f"/><stop offset="0.1850" stop-color="#34276f"/><stop offset="0.2150" stop-color="#2f3476"/><stop offset="0.2350" stop-color="#2f3476"/><stop offset="0.2650" stop-color="#29437a"/><stop offset="0.2850" stop-color="#29437a"/><stop offset="0.3150" stop-color="#24507c"/><stop offset="0.3350" stop-color="#24507c"/><stop offset="0.3650" stop-color="#1e5e7d"/><stop offset="0.3850" stop-color="#1e5e7d"/><stop offset="0.4150" stop-color="#1a6b7d"/><stop offset="0.4350" stop-color="#1a6b7d"/><stop offset="0.4650" stop-color="#16787c"/><stop offset="0.4850" stop-color="#16787c"/><stop offset="0.5150" stop-color="#13867a"/><stop offset="0.5350" stop-color="#13867a"/><stop offset="0.5650" stop-color="#149475"/><stop offset="0.5850" stop-color="#149475"/><stop offset="0.6150" stop-color="#1ca16d"/><stop offset="0.6350" stop-color="#1ca16d"/><stop offset="0.6650" stop-color="#2caf62"/><stop offset="0.6850" stop-color="#2caf62"/><stop offset="0.7150" stop-color="#43bb54"/><stop offset="0.7350" stop-color="#43bb54"/><stop offset="0.7650" stop-color="#62c742"/><stop offset="0.7850" stop-color="#62c742"/><stop offset="0.8150" stop-color="#85d02f"/><stop offset="0.8350" stop-color="#85d02f"/><stop offset="0.8650" stop-color="#aed81a"/><stop offset="0.8850" stop-color="#aed81a"/><stop offset="0.9150" stop-color="#d6dd0f"/><stop offset="0.9350" stop-color="#d6dd0f"/><stop offset="0.9650" stop-color="#fde218"/><stop offset="0.9850" stop-color="#fde218"/></linearGradient></defs><rect x="270.2" y="290.8" width="28.5" height="141.7" fill="url(#gv)"/><path d="M270.2 314.5h5.6M298.7 314.5h-5.6" stroke="#fff" stroke-opacity="0.8" stroke-width="0.55" fill="none"/><text x="305.4" y="319.1" class="lt">6000</text><path d="M270.2 335.7h5.6M298.7 335.7h-5.6" stroke="#fff" stroke-opacity="0.8" stroke-width="0.55" fill="none"/><text x="305.4" y="340.3" class="lt">5000</text><path d="M270.2 356.9h5.6M298.7 356.9h-5.6" stroke="#fff" stroke-opacity="0.8" stroke-width="0.55" fill="none"/><text x="305.4" y="361.5" class="lt">4000</text><path d="M270.2 378.1h5.6M298.7 378.1h-5.6" stroke="#fff" stroke-opacity="0.8" stroke-width="0.55" fill="none"/><text x="305.4" y="382.7" class="lt">3000</text><path d="M270.2 399.3h5.6M298.7 399.3h-5.6" stroke="#fff" stroke-opacity="0.8" stroke-width="0.55" fill="none"/><text x="305.4" y="403.9" class="lt">2000</text><path d="M270.2 420.5h5.6M298.7 420.5h-5.6" stroke="#fff" stroke-opacity="0.8" stroke-width="0.55" fill="none"/><text x="305.4" y="425.1" class="lt">1000</text><text x="270.0" y="282.8" class="ltt">TOTAL_E</text><defs><linearGradient id="gp" x1="0" y1="1" x2="0" y2="0"><stop offset="0.0150" stop-color="#070375"/><stop offset="0.0350" stop-color="#070375"/><stop offset="0.0650" stop-color="#1e0283"/><stop offset="0.0850" stop-color="#1e0283"/><stop offset="0.1150" stop-color="#31018e"/><stop offset="0.1350" stop-color="#31018e"/><stop offset="0.1650" stop-color="#470096"/><stop offset="0.1850" stop-color="#470096"/><stop offset="0.2150" stop-color="#5b0099"/><stop offset="0.2350" stop-color="#5b0099"/><stop offset="0.2650" stop-color="#710298"/><stop offset="0.2850" stop-color="#710298"/><stop offset="0.3150" stop-color="#840a92"/><stop offset="0.3350" stop-color="#840a92"/><stop offset="0.3650" stop-color="#981586"/><stop offset="0.3850" stop-color="#981586"/><stop offset="0.4150" stop-color="#a9217a"/><stop offset="0.4350" stop-color="#a9217a"/><stop offset="0.4650" stop-color="#ba2f6c"/><stop offset="0.4850" stop-color="#ba2f6c"/><stop offset="0.5150" stop-color="#c83c60"/><stop offset="0.5350" stop-color="#c83c60"/><stop offset="0.5650" stop-color="#d64c53"/><stop offset="0.5850" stop-color="#d64c53"/><stop offset="0.6150" stop-color="#e25b48"/><stop offset="0.6350" stop-color="#e25b48"/><stop offset="0.6650" stop-color="#ed6d3d"/><stop offset="0.6850" stop-color="#ed6d3d"/><stop offset="0.7150" stop-color="#f57f32"/><stop offset="0.7350" stop-color="#f57f32"/><stop offset="0.7650" stop-color="#fb9428"/><stop offset="0.7850" stop-color="#fb9428"/><stop offset="0.8150" stop-color="#fdaa1f"/><stop offset="0.8350" stop-color="#fdaa1f"/><stop offset="0.8650" stop-color="#fcc318"/><stop offset="0.8850" stop-color="#fcc318"/><stop offset="0.9150" stop-color="#f6dd18"/><stop offset="0.9350" stop-color="#f6dd18"/><stop offset="0.9650" stop-color="#ecf715"/><stop offset="0.9850" stop-color="#ecf715"/></linearGradient></defs><rect x="667.0" y="290.8" width="28.5" height="141.7" fill="url(#gp)"/><path d="M667.0 320.8h5.6M695.5 320.8h-5.6" stroke="#fff" stroke-opacity="0.8" stroke-width="0.55" fill="none"/><text x="702.2" y="325.4" class="lt">14000</text><path d="M667.0 349.3h5.6M695.5 349.3h-5.6" stroke="#fff" stroke-opacity="0.8" stroke-width="0.55" fill="none"/><text x="702.2" y="353.9" class="lt">12000</text><path d="M667.0 377.9h5.6M695.5 377.9h-5.6" stroke="#fff" stroke-opacity="0.8" stroke-width="0.55" fill="none"/><text x="702.2" y="382.5" class="lt">10000</text><path d="M667.0 406.4h5.6M695.5 406.4h-5.6" stroke="#fff" stroke-opacity="0.8" stroke-width="0.55" fill="none"/><text x="702.2" y="411.0" class="lt">8000</text><text x="666.8" y="282.8" class="ltt">TOTAL_E</text></svg></body></html>
